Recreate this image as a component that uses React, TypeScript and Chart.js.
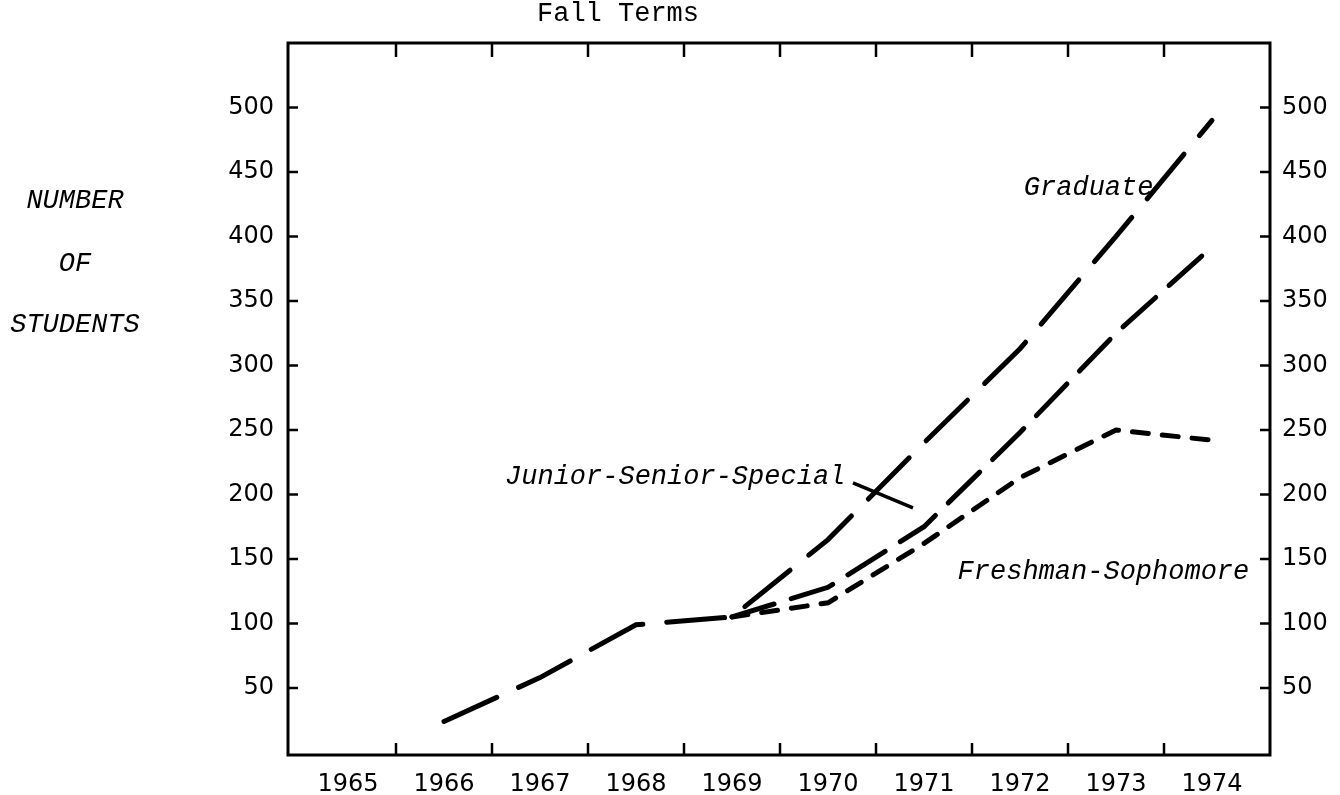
import { useEffect, useRef } from "react";
import { Chart, registerables } from "chart.js";

Chart.register(...registerables);

// ---- data ----
const years = [1966, 1967, 1968, 1969, 1970, 1971, 1972, 1973, 1974];
const graduate = [24, 58, 99, 105, 165, 240, 313, 400, 490];
const juniorSeniorSpecial = [24, 58, 99, 105, 128, 175, 248, 325, 392];
const freshmanSophomore = [24, 58, 99, 105, 116, 162, 213, 250, 242];
const sharedUntilIndex = 3; // all three series coincide up to 1969

const xLabelYears = [1965, 1966, 1967, 1968, 1969, 1970, 1971, 1972, 1973, 1974];
const xTickMarks = [1965.5, 1966.5, 1967.5, 1968.5, 1969.5, 1970.5, 1971.5, 1972.5, 1973.5];
const yTicks = [50, 100, 150, 200, 250, 300, 350, 400, 450, 500];

// pointer from the "Junior-Senior-Special" label to its line
const pointerX = [1970.26, 1970.885];
const pointerY = [209, 189.6];

// series label anchors (data units)
const seriesLabels = [
  { text: "Graduate", x: 1972.04, y: 438, align: "left" },
  { text: "Junior-Senior-Special", x: 1970.18, y: 214, align: "right" },
  { text: "Freshman-Sophomore", x: 1971.35, y: 140, align: "left" },
];

const title = "Fall Terms";
const yTitleLines = ["NUMBER", "OF", "STUDENTS"];

const toPoints = (vals: number[]) => years.map((yr, i) => ({ x: yr, y: vals[i] }));

export default function App() {
  const canvasRef = useRef<HTMLCanvasElement | null>(null);

  useEffect(() => {
    const canvas = canvasRef.current;
    if (!canvas) return;

    const framePlugin = {
      id: "frameAndText",
      afterDraw(chart: any) {
        const { ctx, chartArea } = chart;
        const xs = chart.scales.x;
        const ys = chart.scales.y;
        const { left, right, top, bottom } = chartArea;
        ctx.save();
        ctx.strokeStyle = "#000";
        ctx.lineWidth = 3;
        ctx.strokeRect(left, top, right - left, bottom - top);
        ctx.lineWidth = 2.5;
        ctx.beginPath();
        xTickMarks.forEach((v) => {
          const px = xs.getPixelForValue(v);
          ctx.moveTo(px, bottom);
          ctx.lineTo(px, bottom - 12);
          ctx.moveTo(px, top);
          ctx.lineTo(px, top + 14);
        });
        yTicks.forEach((v) => {
          const py = ys.getPixelForValue(v);
          ctx.moveTo(left, py);
          ctx.lineTo(left + 10, py);
          ctx.moveTo(right, py);
          ctx.lineTo(right - 10, py);
        });
        ctx.stroke();

        ctx.fillStyle = "#000";
        ctx.textBaseline = "middle";
        ctx.font = '27px "Liberation Mono", monospace';
        ctx.textAlign = "center";
        ctx.fillText(title, 618, 14);

        ctx.font = 'italic 27px "Liberation Mono", monospace';
        const yTitleY = [201, 264, 325];
        yTitleLines.forEach((t, i) => ctx.fillText(t, 75, yTitleY[i]));

        seriesLabels.forEach((l) => {
          ctx.textAlign = l.align as CanvasTextAlign;
          ctx.fillText(l.text, xs.getPixelForValue(l.x), ys.getPixelForValue(l.y));
        });
        ctx.restore();
      },
    };

    const hideShared = {
      borderColor: (c: any) => (c.p1DataIndex <= sharedUntilIndex ? "rgba(0,0,0,0)" : "#000"),
    };

    const yTickCfg = {
      color: "#000",
      font: { family: '"DejaVu Sans", sans-serif', size: 24 },
    };

    const chart = new Chart(canvas, {
      type: "line",
      data: {
        datasets: [
          {
            label: "Graduate",
            data: toPoints(graduate),
            borderColor: "#000",
            borderWidth: 5,
            borderDash: [58, 24],
            borderCapStyle: "round",
            pointRadius: 0,
            tension: 0,
          },
          {
            label: "Junior-Senior-Special",
            data: toPoints(juniorSeniorSpecial),
            borderColor: "#000",
            borderWidth: 5,
            borderDash: [44, 18],
            borderCapStyle: "round",
            pointRadius: 0,
            tension: 0,
            segment: hideShared,
          },
          {
            label: "Freshman-Sophomore",
            data: toPoints(freshmanSophomore),
            borderColor: "#000",
            borderWidth: 5,
            borderDash: [16, 14],
            borderCapStyle: "round",
            pointRadius: 0,
            tension: 0,
            segment: hideShared,
          },
          {
            label: "pointer",
            data: pointerX.map((x, i) => ({ x, y: pointerY[i] })),
            borderColor: "#000",
            borderWidth: 3.5,
            pointRadius: 0,
          },
        ],
      } as any,
      options: {
        animation: false,
        responsive: true,
        maintainAspectRatio: false,
        layout: { padding: { top: 43, left: 0, right: 0, bottom: 0 } },
        plugins: { legend: { display: false }, tooltip: { enabled: false }, title: { display: false } },
        scales: {
          x: {
            type: "linear",
            position: "bottom",
            min: 1964.375,
            max: 1974.604,
            grid: { display: false },
            border: { display: false },
            ticks: {
              color: "#000",
              font: { family: '"DejaVu Sans", sans-serif', size: 24 },
              padding: 7,
              maxRotation: 0,
              autoSkip: false,
              callback: (v: any) => String(v),
            },
            afterBuildTicks: (s: any) => {
              s.ticks = xLabelYears.map((v) => ({ value: v }));
            },
            afterFit: (s: any) => {
              s.height = 40;
            },
          },
          y: {
            type: "linear",
            position: "left",
            min: -2,
            max: 550,
            grid: { display: false },
            border: { display: false },
            ticks: { ...yTickCfg, padding: 6 },
            afterBuildTicks: (s: any) => {
              s.ticks = yTicks.map((v) => ({ value: v }));
            },
            afterFit: (s: any) => {
              s.width = 288;
            },
          },
          yR: {
            type: "linear",
            position: "right",
            min: -2,
            max: 550,
            grid: { display: false },
            border: { display: false },
            ticks: { ...yTickCfg, padding: 4 },
            afterBuildTicks: (s: any) => {
              s.ticks = yTicks.map((v) => ({ value: v }));
            },
            afterFit: (s: any) => {
              s.width = 70;
            },
          },
        },
      } as any,
      plugins: [framePlugin],
    });

    return () => chart.destroy();
  }, []);

  return (
    <div style={{ position: "fixed", left: 0, top: 0, width: 1340, height: 795, background: "#fff" }}>
      <canvas ref={canvasRef} />
    </div>
  );
}
